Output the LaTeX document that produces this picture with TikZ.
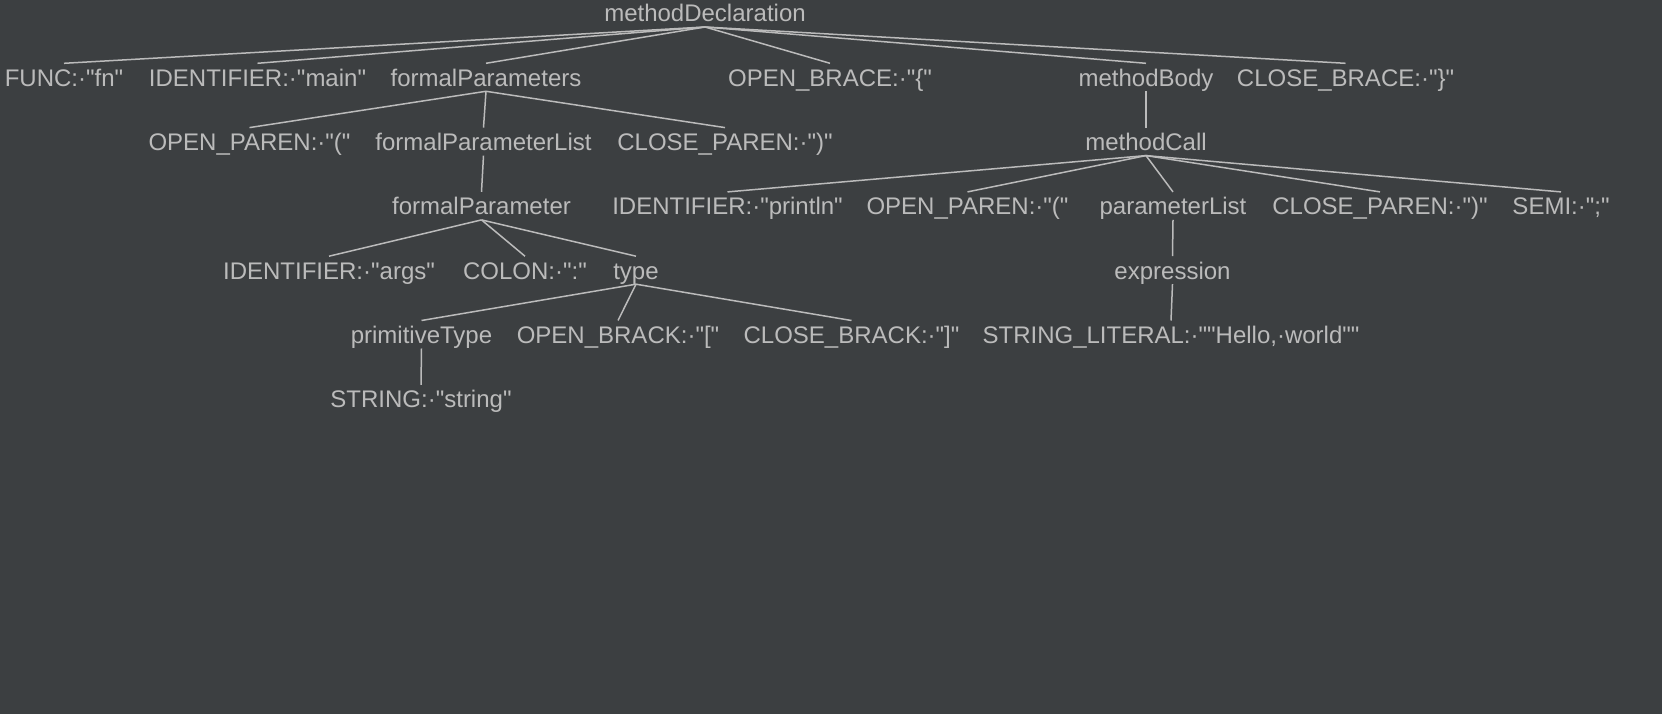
\documentclass[tikz,border=0pt]{standalone}
\usepackage{fontspec}
\setmainfont{Liberation Sans}[Ligatures=TeXOff]
\definecolor{bgc}{HTML}{3C3F41}
\definecolor{fgc}{HTML}{BBBBBB}
\begin{document}
\begin{tikzpicture}[x=1pt,y=-1pt,
  tn/.style={anchor=base, inner sep=0pt, outer sep=0pt, text height=23pt, text depth=5pt, text=fgc, font=\fontsize{24}{28}\selectfont},
  edge/.style={draw=fgc, line width=1.5pt}]
\fill[bgc] (0,0) rectangle (1662,714);
\useasboundingbox (0,0) rectangle (1662,714);
% row 0
\node[tn] (md) at (705,22) {methodDeclaration};
% row 1
\node[tn] (func) at (64,86.3) {FUNC:·"fn"};
\node[tn] (idmain) at (257.5,86.3) {IDENTIFIER:·"main"};
\node[tn] (fps) at (486,86.3) {formalParameters};
\node[tn] (ob) at (830,86.3) {OPEN\_BRACE:·"\{"};
\node[tn] (mb) at (1146,86.3) {methodBody};
\node[tn] (cb) at (1345.5,86.3) {CLOSE\_BRACE:·"\}"};
% row 2
\node[tn] (op1) at (249.5,150.6) {OPEN\_PAREN:·"("};
\node[tn] (fpl) at (483.5,150.6) {formalParameterList};
\node[tn] (cp1) at (725,150.6) {CLOSE\_PAREN:·")"};
\node[tn] (mc) at (1146,150.6) {methodCall};
% row 3
\node[tn] (fp) at (481.5,214.9) {formalParameter};
\node[tn] (idp) at (727.5,214.9) {IDENTIFIER:·"println"};
\node[tn] (op2) at (967.5,214.9) {OPEN\_PAREN:·"("};
\node[tn] (pl) at (1173,214.9) {parameterList};
\node[tn] (cp2) at (1380,214.9) {CLOSE\_PAREN:·")"};
\node[tn] (semi) at (1561,214.9) {SEMI:·";"};
% row 4
\node[tn] (ida) at (329,279.2) {IDENTIFIER:·"args"};
\node[tn] (colon) at (525,279.2) {COLON:·":"};
\node[tn] (ty) at (636,279.2) {type};
\node[tn] (expr) at (1172.5,279.2) {expression};
% row 5
\node[tn] (pt) at (421.5,343.5) {primitiveType};
\node[tn] (obk) at (618,343.5) {OPEN\_BRACK:·"["};
\node[tn] (cbk) at (851.5,343.5) {CLOSE\_BRACK:·"]"};
\node[tn] (sl) at (1171,343.5) {STRING\_LITERAL:·""Hello,·world""};
% row 6
\node[tn] (str) at (421,407.8) {STRING:·"string"};
% edges
\foreach \p/\c in {md/func, md/idmain, md/fps, md/ob, md/mb, md/cb,
  fps/op1, fps/fpl, fps/cp1, mb/mc,
  fpl/fp, mc/idp, mc/op2, mc/pl, mc/cp2, mc/semi,
  fp/ida, fp/colon, fp/ty, pl/expr,
  ty/pt, ty/obk, ty/cbk, expr/sl,
  pt/str}
  \draw[edge] (\p.south) -- (\c.north);
\end{tikzpicture}
\end{document}
